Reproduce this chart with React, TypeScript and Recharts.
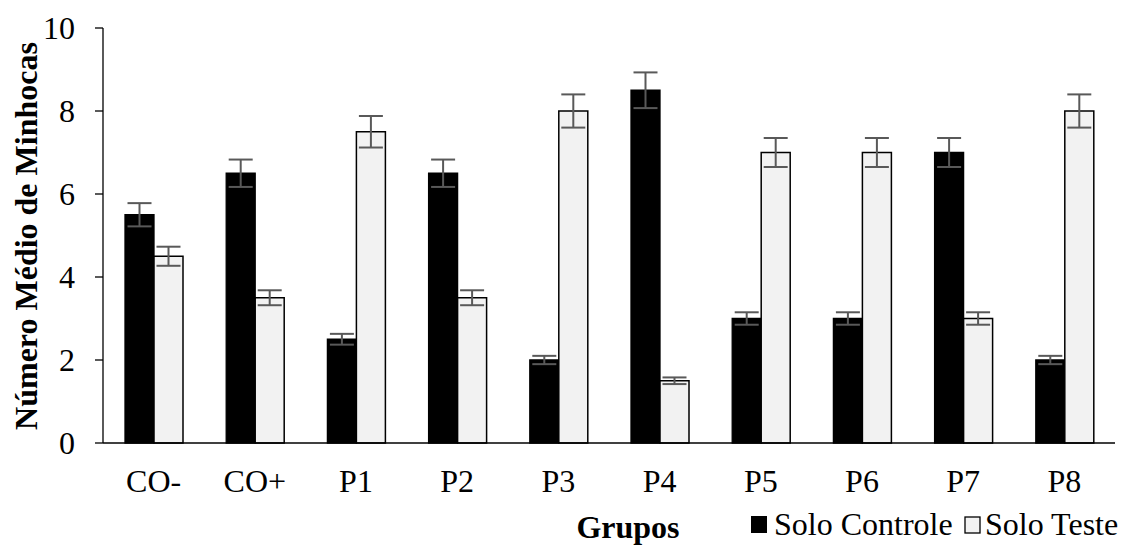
import { Bar, BarChart, ErrorBar, XAxis, YAxis } from "recharts";

const groups = ["CO-", "CO+", "P1", "P2", "P3", "P4", "P5", "P6", "P7", "P8"];
const soloControle = [5.5, 6.5, 2.5, 6.5, 2, 8.5, 3, 3, 7, 2];
const soloControleErr = [0.28, 0.33, 0.13, 0.33, 0.1, 0.43, 0.15, 0.15, 0.35, 0.1];
const soloTeste = [4.5, 3.5, 7.5, 3.5, 8, 1.5, 7, 7, 3, 8];
const soloTesteErr = [0.23, 0.18, 0.38, 0.18, 0.4, 0.08, 0.35, 0.35, 0.15, 0.4];
const yTicks = [0, 2, 4, 6, 8, 10];

const data = groups.map((g, i) => ({
  group: g,
  controle: soloControle[i],
  controleErr: soloControleErr[i],
  teste: soloTeste[i],
  testeErr: soloTesteErr[i],
}));

const FONT = "'Liberation Serif', 'Times New Roman', serif";

// x title + legend, drawn under the axis
function BottomTexts() {
  return (
    <g fontFamily={FONT} fontSize={32} fill="#000">
      <text x={628} y={538} textAnchor="middle" fontWeight="bold">
        Grupos
      </text>
      <rect x={751} y={516} width={16} height={17} fill="#000" />
      <text x={774} y={535}>Solo Controle</text>
      <rect x={965} y={517} width={15} height={16} fill="#f2f2f2" stroke="#000" strokeWidth={1.3} />
      <text x={985} y={535}>Solo Teste</text>
    </g>
  );
}

function YTitle() {
  return (
    <text
      x={26}
      y={236}
      transform="rotate(-90 26 236)"
      textAnchor="middle"
      dominantBaseline="central"
      fontFamily={FONT}
      fontSize={32}
      fontWeight="bold"
      fill="#000"
    >
      Número Médio de Minhocas
    </text>
  );
}

export default function App() {
  return (
    <div style={{ position: "absolute", left: 0, top: 0, background: "#fff" }}>
      <BarChart
        width={1126}
        height={545}
        data={data}
        margin={{ top: 28, right: 11, left: 0, bottom: 0 }}
        barSize={29}
        barGap={0}
      >
        <XAxis
          dataKey="group"
          interval={0}
          height={102}
          tickLine={false}
          tickMargin={20}
          axisLine={{ stroke: "#000", strokeWidth: 1.3 }}
          tick={{ fill: "#000", fontSize: 32, fontFamily: FONT }}
          label={() => <BottomTexts />}
        />
        <YAxis
          width={103}
          domain={[0, 10]}
          ticks={yTicks}
          tickSize={8}
          tickMargin={20}
          axisLine={{ stroke: "#000", strokeWidth: 1.3 }}
          tickLine={{ stroke: "#000", strokeWidth: 1.3 }}
          tick={{ fill: "#000", fontSize: 32, fontFamily: FONT }}
          label={() => <YTitle />}
        />
        <Bar dataKey="controle" fill="#000" stroke="#000" strokeWidth={1.3} isAnimationActive={false}>
          <ErrorBar dataKey="controleErr" width={12} stroke="#595959" strokeWidth={2} />
        </Bar>
        <Bar dataKey="teste" fill="#f2f2f2" stroke="#000" strokeWidth={1.5} isAnimationActive={false}>
          <ErrorBar dataKey="testeErr" width={12} stroke="#595959" strokeWidth={2} />
        </Bar>
      </BarChart>
    </div>
  );
}
